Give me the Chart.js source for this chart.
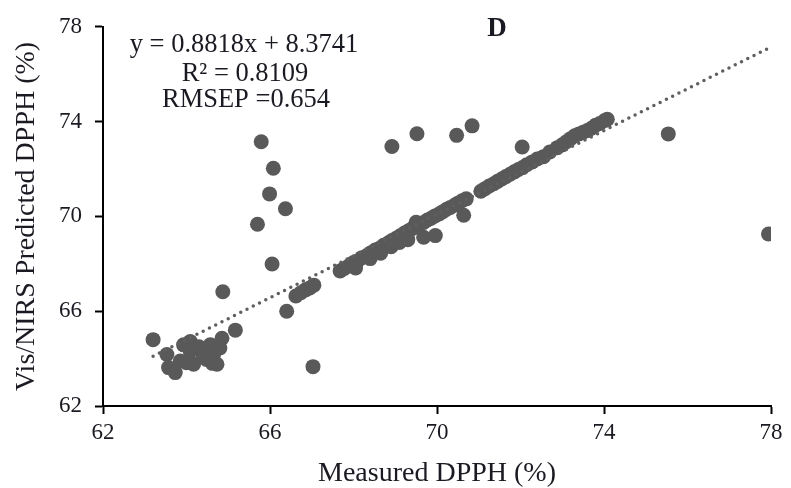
<!DOCTYPE html>
<html>
<head>
<meta charset="utf-8">
<script src="https://cdn.jsdelivr.net/npm/chart.js@4"></script>
<style>
  html, body { margin: 0; padding: 0; background: #fff; }
  #wrap { width: 791px; height: 488px; }
</style>
</head>
<body>
<div id="wrap"><canvas id="chart"></canvas></div>
<script>
// measured vs predicted DPPH (%)
var measured = [
  63.20, 63.53, 63.57, 63.73, 63.85, 63.93, 64.00, 64.09, 64.09, 64.17,
  64.30, 64.40, 64.48, 64.57, 64.62, 64.65, 64.73, 64.80, 64.85, 65.17,
  64.87, 66.05, 65.70, 66.37, 65.99, 66.08, 65.79, 67.03, 68.92, 69.52,
  70.47, 70.84, 72.04, 75.54, 77.94, 69.68, 69.96, 70.64, 66.40,
  66.62, 66.74, 66.85, 66.95, 67.05,
  67.68, 67.78, 67.90, 68.00, 68.10, 68.20, 68.32, 68.42, 68.52, 68.63,
  68.72, 68.83, 68.92, 69.02, 69.12, 69.22, 69.31, 69.40, 69.50, 69.58,
  69.68, 69.77, 69.86, 69.95, 70.05, 70.14, 70.23, 70.32, 70.42, 70.50,
  70.60, 70.70,
  71.05, 71.15, 71.25, 71.36, 71.45, 71.55, 71.65, 71.75, 71.85, 71.95,
  72.05, 72.15, 72.28, 72.40, 72.55, 72.70, 72.88, 73.00, 73.10, 73.20,
  73.30, 73.40, 73.50, 73.60, 73.70, 73.80, 73.90, 74.02, 74.08,
  68.40, 68.90, 69.30, 69.50, 68.05, 69.10, 68.65
];
var predicted = [
  64.80, 64.17, 63.62, 63.41, 63.90, 64.58, 63.83, 64.31, 64.72, 63.76,
  64.50, 64.10, 63.96, 64.58, 63.80, 64.17, 63.76, 64.45, 64.86, 65.20,
  66.82, 67.99, 69.67, 70.32, 70.95, 72.03, 73.15, 63.66, 72.95, 73.49,
  73.42, 73.82, 72.93, 73.48, 69.26, 69.12, 69.19, 70.05, 66.00,
  66.64, 66.78, 66.90, 66.98, 67.10,
  67.70, 67.80, 67.93, 68.05, 68.12, 68.26, 68.35, 68.47, 68.58, 68.66,
  68.78, 68.88, 68.98, 69.08, 69.18, 69.30, 69.38, 69.48, 69.55, 69.66,
  69.74, 69.85, 69.92, 70.02, 70.10, 70.20, 70.30, 70.38, 70.47, 70.56,
  70.66, 70.74,
  71.06, 71.17, 71.28, 71.38, 71.48, 71.58, 71.68, 71.78, 71.88, 71.98,
  72.06, 72.18, 72.30, 72.42, 72.52, 72.72, 72.90, 73.02, 73.15, 73.28,
  73.40, 73.48, 73.55, 73.62, 73.72, 73.85, 73.92, 74.05, 74.10,
  68.22, 68.72, 69.02, 69.75, 67.82, 68.90, 68.45
];

// linear trendline y = 0.8818x + 8.3741, end points
var trendX = [63.2, 78.0];
var trendY = [64.10, 77.15];

var axisTicks = [62, 66, 70, 74, 78];

var eqLines = ['y = 0.8818x + 8.3741', 'R\u00B2 = 0.8109', 'RMSEP =0.654'];
var panelLetter = 'D';

var serif = "'Liberation Serif', 'Times New Roman', serif";
var textCol = '#1a1a22';

var points = measured.map(function (m, i) { return { x: m, y: predicted[i] }; });
var trend = trendX.map(function (t, i) { return { x: t, y: trendY[i] }; });

var textPlugin = {
  id: 'notes',
  afterDraw: function (chart) {
    var c = chart.ctx;
    c.save();
    c.fillStyle = textCol;
    c.textAlign = 'center';
    c.textBaseline = 'middle';
    c.font = '26.5px ' + serif;
    c.fillText(eqLines[0], 244, 45);
    c.fillText(eqLines[1], 245, 74);
    c.fillText(eqLines[2], 246, 100);
    c.font = 'bold 27px ' + serif;
    c.fillText(panelLetter, 497, 29);
    c.restore();
  }
};

new Chart(document.getElementById('chart'), {
  type: 'scatter',
  data: {
    datasets: [{
      label: 'DPPH',
      data: points,
      backgroundColor: 'rgb(89,89,89)',
      borderWidth: 0,
      pointRadius: 7.5,
      order: 2
    },
    {
      type: 'line',
      label: 'Linear',
      data: trend,
      borderColor: 'rgb(95,95,95)',
      borderWidth: 3.5,
      borderDash: [0, 7],
      borderCapStyle: 'round',
      pointRadius: 0,
      fill: false,
      order: 1
    }]
  },
  options: {
    responsive: true,
    maintainAspectRatio: false,
    animation: false,
    layout: { padding: { left: 0, right: 20, top: 18, bottom: 0 } },
    plugins: {
      legend: { display: false },
      tooltip: { enabled: false }
    },
    scales: {
      x: {
        type: 'linear',
        min: 62, max: 78,
        afterBuildTicks: function (s) { s.ticks = axisTicks.map(function (v) { return { value: v }; }); },
        afterFit: function (s) { s.height = 82; },
        ticks: { color: textCol, font: { family: serif, size: 23 }, padding: 5 },
        grid: { drawOnChartArea: false, color: '#000', tickLength: 8, tickWidth: 2 },
        border: { color: '#000', width: 2 },
        title: { display: true, text: 'Measured DPPH (%)', color: textCol, font: { family: serif, size: 28, lineHeight: 1 }, padding: { top: 0, bottom: 0 } }
      },
      y: {
        type: 'linear',
        min: 62, max: 78,
        afterBuildTicks: function (s) { s.ticks = axisTicks.map(function (v) { return { value: v }; }); },
        afterFit: function (s) { s.width = 103; },
        ticks: { color: textCol, font: { family: serif, size: 23 }, padding: 13 },
        grid: { drawOnChartArea: false, color: '#000', tickLength: 8, tickWidth: 2 },
        border: { color: '#000', width: 2 },
        title: { display: true, text: 'Vis/NIRS Predicted DPPH (%)', color: textCol, font: { family: serif, size: 28, lineHeight: 1 }, padding: { top: 13, bottom: 0 } }
      }
    }
  },
  plugins: [textPlugin]
});
</script>
</body>
</html>
